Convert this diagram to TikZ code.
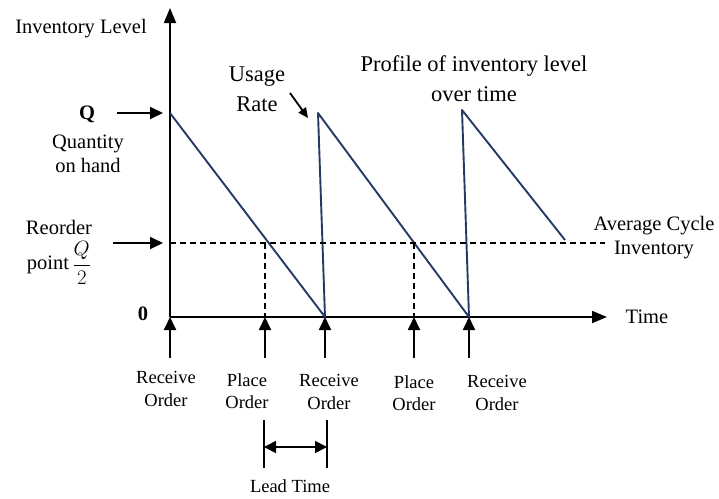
\documentclass[tikz,border=0pt]{standalone}
\usepackage{fontspec}
\setmainfont{Liberation Serif}
\usetikzlibrary{
    arrows.meta,
    positioning,
    calc,
}
\definecolor{navy}{HTML}{243B63}

\begin{document}
\begin{tikzpicture}[
    x=1pt, y=-1pt,
    axis/.style={draw, line width=1.8pt, -{Triangle[length=15pt, width=12pt]}},
    pointer/.style={draw, line width=1.8pt, -{Triangle[length=13pt, width=12pt]}},
    profile/.style={draw=navy, line width=1.9pt, line join=round},
    guide/.style={draw, line width=1.3pt, dash pattern=on 6pt off 4pt},
    textbox/.style={align=center, inner sep=0pt, font=\fontsize{20.5}{24}\selectfont},
    event/.style={align=center, inner sep=0pt, font=\fontsize{18.5}{22.5}\selectfont},
    bigtext/.style={align=center, inner sep=0pt, font=\fontsize{22.5}{30}\selectfont},
]
\useasboundingbox (0,0) rectangle (719,498);

% axes
\coordinate (o) at (170,317);
\coordinate (ytop) at (170,8);
\coordinate (xend) at (607,317);
\draw[axis] (o) -- (ytop);
\draw[axis] (o) -- (xend);

% inventory profile
\coordinate (q1) at (170,113);
\coordinate (r1) at (325,317);
\coordinate (q2) at (318,113);
\coordinate (r2) at (469,317);
\coordinate (q3) at (462,110);
\coordinate (tail) at (565,240);
\draw[profile] (q1) -- (r1) -- (q2) -- (r2) -- (q3) -- (tail);

% reorder level and order points
\coordinate (rp-left) at (170,243);
\coordinate (rp-right) at (605,243);
\coordinate (p1) at (265,243);
\coordinate (p1-base) at (265,317);
\coordinate (p2) at (414,243);
\coordinate (p2-base) at (414,317);
\draw[guide] (rp-left) -- (rp-right);
\draw[guide] (p1) -- (p1-base);
\draw[guide] (p2) -- (p2-base);

% event arrows
\coordinate (e1) at (170,358);
\coordinate (e2) at (265,358);
\coordinate (e3) at (325,358);
\coordinate (e4) at (414,358);
\coordinate (e5) at (469,358);
\draw[pointer] (e1) -- (o);
\draw[pointer] (e2) -- (p1-base);
\draw[pointer] (e3) -- (r1);
\draw[pointer] (e4) -- (p2-base);
\draw[pointer] (e5) -- (r2);

\node[event] (recv1) at (166,389) {Receive\\Order};
\node[event] (place1) at (247,391) {Place\\Order};
\node[event] (recv2) at (329,392) {Receive\\Order};
\node[event] (place2) at (414,393) {Place\\Order};
\node[event] (recv3) at (497,393) {Receive\\Order};

% lead time
\coordinate (lt-a) at (264,447);
\coordinate (lt-b) at (327,447);
\draw[line width=1.8pt] ($(lt-a)+(0,-27)$) -- ($(lt-a)+(0,21)$);
\draw[line width=1.8pt] ($(lt-b)+(0,-27)$) -- ($(lt-b)+(0,21)$);
\draw[line width=1.8pt, {Triangle[length=12pt, width=12pt]}-{Triangle[length=12pt, width=12pt]}] (lt-a) -- (lt-b);
\node[event] (leadtime) at (290,486) {Lead Time};

% axis labels
\node[textbox] (ylabel) at (81,29) {Inventory Level};
\node[textbox] (xlabel) at (647,317) {Time};
\node[textbox, font=\fontsize{20.5}{24}\selectfont\bfseries] (zero) at (143,314) {0};

% left side labels
\node[textbox, font=\fontsize{20.5}{24}\selectfont\bfseries] (qlabel) at (87,114) {Q};
\coordinate (q-from) at (117,113);
\coordinate (q-tip) at (163,113);
\draw[pointer] (q-from) -- (q-tip);
\node[textbox] (onhand) at (88,154) {Quantity\\on hand};

\node[textbox] (reorder) at (59,227) {Reorder};
\node[textbox] (point) at (59,263) {point\,$\displaystyle\frac{Q}{2}$};
\coordinate (rp-from) at (113,243);
\coordinate (rp-tip) at (163,243);
\draw[pointer] (rp-from) -- (rp-tip);

% annotations
\node[bigtext] (usage) at (257,89) {Usage\\Rate};
\coordinate (usage-from) at (290,93);
\coordinate (usage-tip) at (308,118);
\draw[line width=1.8pt, -{Triangle[length=10pt, width=9pt]}] (usage-from) -- (usage-tip);
\node[bigtext] (title) at (474,79) {Profile of inventory level\\over time};
\node[textbox] (avg) at (654,238) {Average Cycle\\Inventory};

\end{tikzpicture}
\end{document}
